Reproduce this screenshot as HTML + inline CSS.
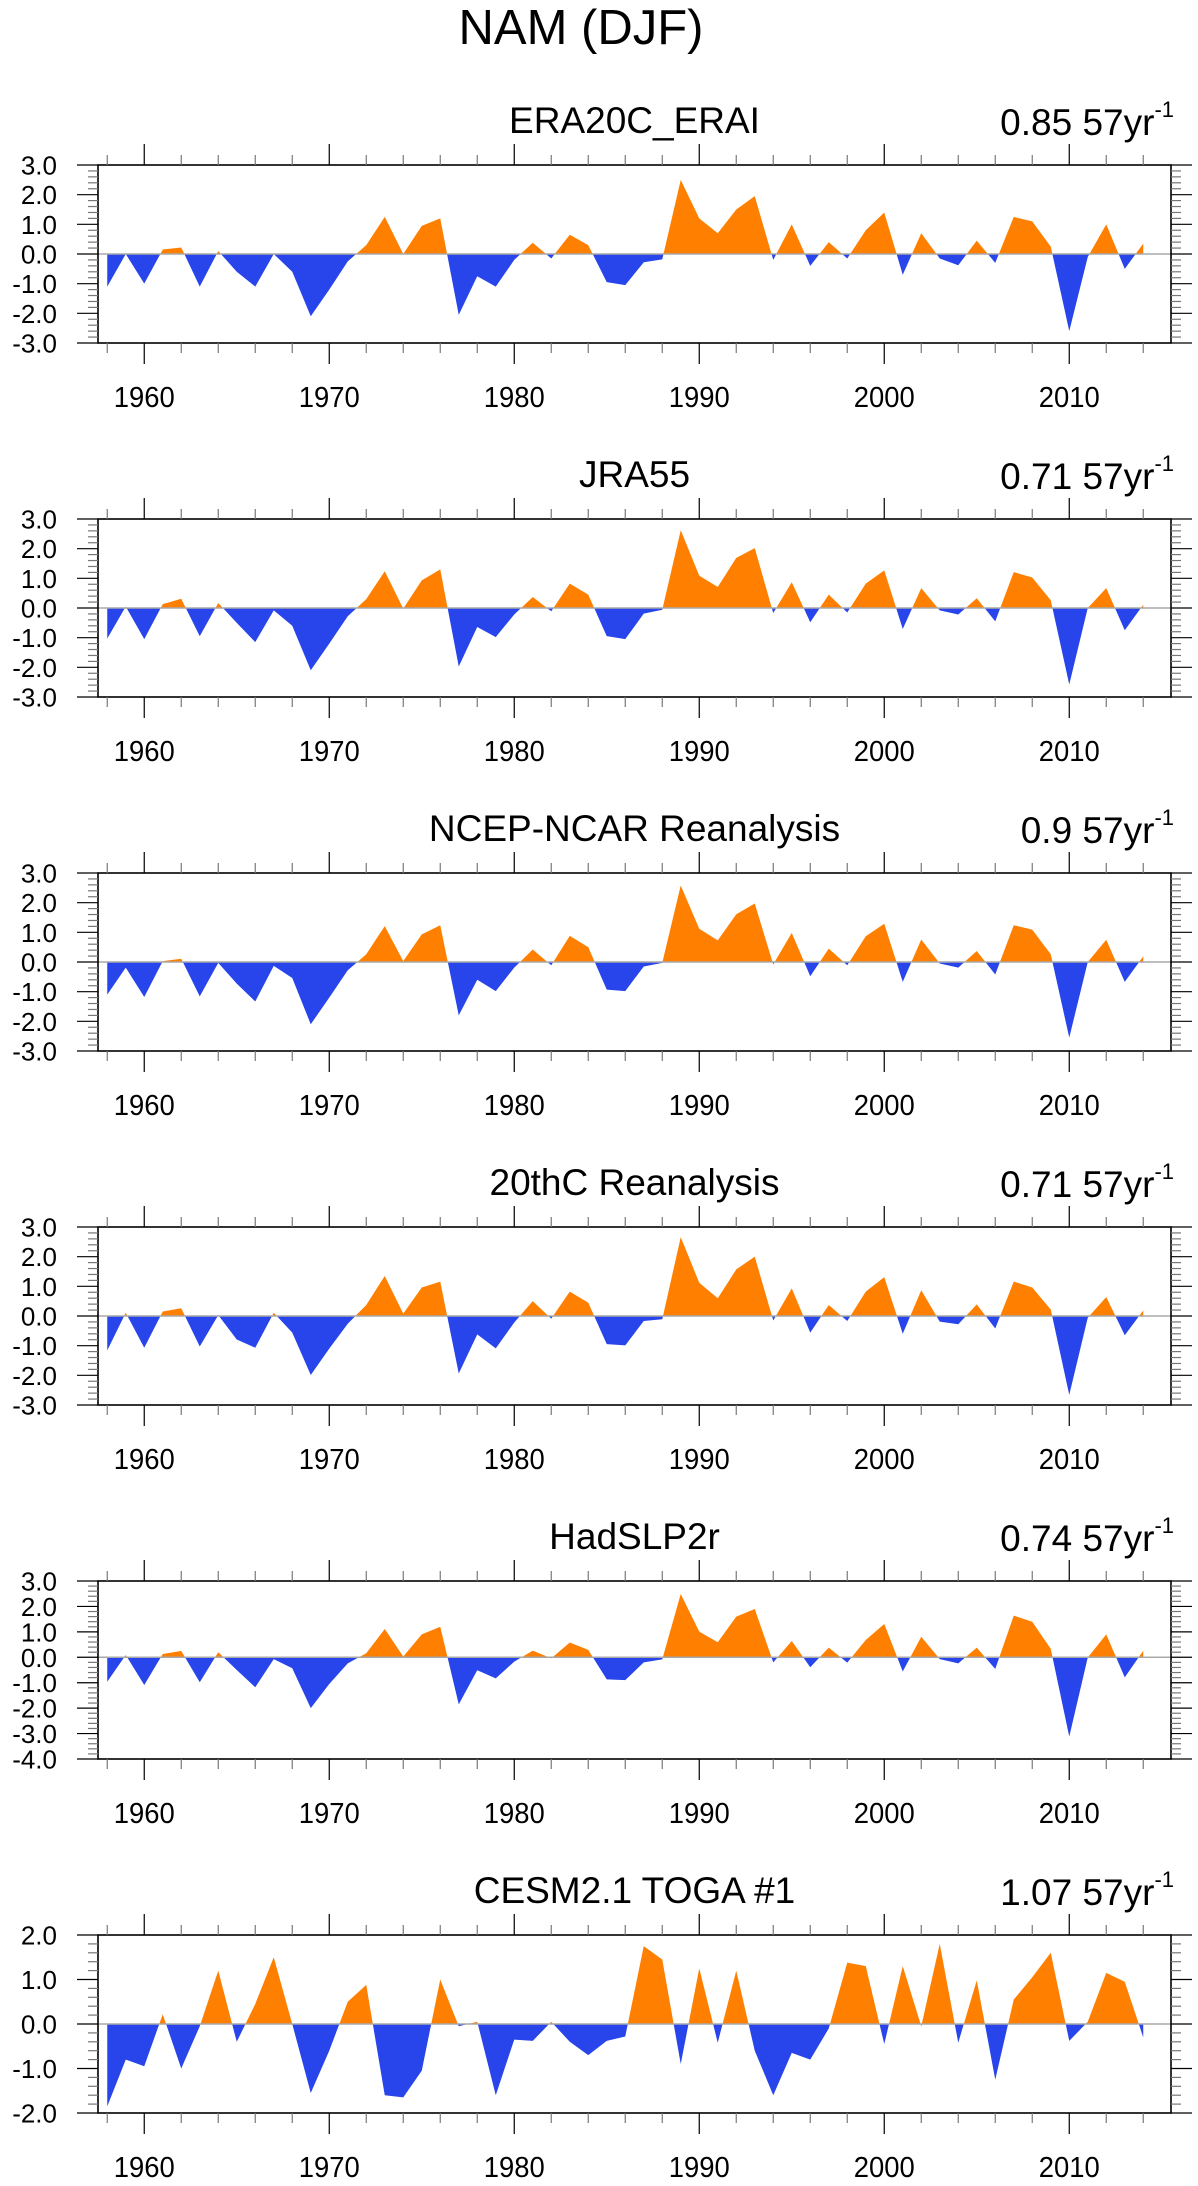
<!DOCTYPE html>
<html><head><meta charset="utf-8"><title>NAM (DJF)</title>
<style>html,body{margin:0;padding:0;background:#fff}svg{display:block}text{font-family:"Liberation Sans",Arial,sans-serif;fill:#000}</style>
</head><body>
<svg id="fig" width="1198" height="2186" viewBox="0 0 1198 2186" xmlns="http://www.w3.org/2000/svg">
<text x="581" y="44" font-size="49" text-anchor="middle">NAM (DJF)</text>
</svg>
<script>
const years = []; for (let y = 1958; y <= 2014; y++) years.push(y);
const titles = ["ERA20C_ERAI","JRA55","NCEP-NCAR Reanalysis","20thC Reanalysis","HadSLP2r","CESM2.1 TOGA #1"];
const corrs = ["0.85 57yr","0.71 57yr","0.9 57yr","0.71 57yr","0.74 57yr","1.07 57yr"];
const yMins = [-3,-3,-3,-3,-4,-2];
const yMaxs = [3,3,3,3,3,2];
const xTickLabels = [1960,1970,1980,1990,2000,2010];
const era20c = [-1.1,0.0,-1.0,0.15,0.22,-1.1,0.1,-0.6,-1.1,0.0,-0.6,-2.1,-1.2,-0.25,0.3,1.25,0.0,0.95,1.2,-2.05,-0.75,-1.1,-0.2,0.38,-0.15,0.65,0.3,-0.95,-1.05,-0.28,-0.18,2.5,1.2,0.7,1.5,1.95,-0.2,1.0,-0.4,0.4,-0.15,0.8,1.4,-0.7,0.7,-0.15,-0.38,0.45,-0.3,1.25,1.1,0.25,-2.6,-0.1,1.0,-0.5,0.35];
const jra55 = [-1.03,0.05,-1.05,0.13,0.31,-0.95,0.17,-0.5,-1.15,-0.08,-0.6,-2.1,-1.2,-0.28,0.3,1.24,-0.02,0.93,1.3,-1.97,-0.64,-0.98,-0.22,0.37,-0.11,0.82,0.45,-0.95,-1.05,-0.19,-0.06,2.62,1.09,0.71,1.69,2.02,-0.17,0.87,-0.48,0.45,-0.15,0.82,1.27,-0.71,0.67,-0.08,-0.22,0.33,-0.45,1.21,1.03,0.26,-2.58,0.0,0.67,-0.75,0.11];
const ncep = [-1.1,-0.19,-1.18,0.03,0.11,-1.16,-0.03,-0.73,-1.33,-0.13,-0.54,-2.1,-1.2,-0.28,0.26,1.21,0.03,0.93,1.24,-1.8,-0.6,-0.98,-0.19,0.42,-0.11,0.88,0.5,-0.93,-0.98,-0.15,-0.03,2.58,1.12,0.73,1.61,1.97,-0.08,0.98,-0.48,0.45,-0.11,0.87,1.29,-0.67,0.76,-0.05,-0.19,0.37,-0.42,1.24,1.09,0.26,-2.55,0.0,0.75,-0.67,0.19];
const c20 = [-1.16,0.11,-1.07,0.15,0.26,-1.03,0.03,-0.79,-1.07,0.11,-0.56,-1.99,-1.1,-0.26,0.37,1.35,0.08,0.96,1.16,-1.94,-0.62,-1.09,-0.22,0.5,-0.09,0.82,0.45,-0.95,-0.99,-0.17,-0.11,2.66,1.12,0.6,1.57,2.0,-0.15,0.93,-0.56,0.37,-0.17,0.82,1.31,-0.6,0.87,-0.19,-0.28,0.39,-0.42,1.16,0.96,0.22,-2.66,-0.06,0.64,-0.65,0.19];
const hadslp = [-0.96,0.09,-1.09,0.13,0.25,-0.98,0.2,-0.5,-1.18,-0.07,-0.43,-2.0,-1.05,-0.24,0.16,1.11,0.03,0.9,1.2,-1.85,-0.51,-0.83,-0.17,0.26,-0.04,0.58,0.29,-0.87,-0.9,-0.2,-0.08,2.49,1.01,0.59,1.6,1.9,-0.2,0.64,-0.39,0.38,-0.21,0.68,1.31,-0.56,0.81,-0.07,-0.24,0.38,-0.46,1.64,1.4,0.33,-3.12,-0.01,0.9,-0.79,0.26];
const cesm = [-1.85,-0.8,-0.95,0.22,-1.0,-0.05,1.2,-0.4,0.45,1.5,0.0,-1.55,-0.6,0.5,0.88,-1.6,-1.65,-1.05,1.0,-0.05,0.05,-1.6,-0.35,-0.38,0.05,-0.4,-0.7,-0.38,-0.28,1.75,1.45,-0.9,1.25,-0.42,1.2,-0.6,-1.6,-0.65,-0.8,-0.1,1.38,1.3,-0.45,1.3,-0.05,1.8,-0.42,0.98,-1.25,0.55,1.05,1.6,-0.38,0.05,1.15,0.95,-0.3];
const series = [era20c, jra55, ncep, c20, hadslp, cesm];

const NS = "http://www.w3.org/2000/svg";
const svg = document.getElementById('fig');
const L = 98, R = 1171, H = 178, X0 = 1957.5, X1 = 2015.5;
const tops = [165, 519, 873, 1227, 1581, 1935];
function mk(tag, attrs, parent) { const e = document.createElementNS(NS, tag); for (const k in attrs) e.setAttribute(k, attrs[k]); (parent || svg).appendChild(e); return e; }
const xs = yr => L + (yr - X0) * (R - L) / (X1 - X0);

series.forEach((vals, p) => {
  const top = tops[p], bot = top + H, lo = yMins[p], hi = yMaxs[p];
  const ys = v => bot - (v - lo) * H / (hi - lo);
  const g = mk('g', {});
  
  
  const t = mk('text', {x: (L + R) / 2, y: top - 32, 'font-size': 37, 'text-anchor': 'middle'}, g);
  t.textContent = titles[p];
  
  
  const c = mk('text', {x: 1174, y: top - 30, 'font-size': 37, 'text-anchor': 'end'}, g);
  
  
  c.appendChild(document.createTextNode(corrs[p]));
  const sup = mk('tspan', {dy: -18, 'font-size': 22}, c); sup.textContent = '-1';
  // area fill
  const z = ys(0);
  let d = 'M' + xs(years[0]) + ' ' + z;
  vals.forEach((v, i) => { d += ' L' + xs(years[i]).toFixed(2) + ' ' + ys(v).toFixed(2); });
  d += ' L' + xs(years[years.length - 1]) + ' ' + z + ' Z';
  const cpA = mk('clipPath', {id: 'ca' + p}, g); mk('rect', {x: L, y: top, width: R - L, height: z - top}, cpA);
  const cpB = mk('clipPath', {id: 'cb' + p}, g); mk('rect', {x: L, y: z, width: R - L, height: bot - z}, cpB);
  const pa = mk('path', {d: d, fill: '#ff8000', 'clip-path': 'url(#ca' + p + ')'}, g);
  
  
  const pb = mk('path', {d: d, fill: '#2745ea', 'clip-path': 'url(#cb' + p + ')'}, g);
  
  
  const zl = mk('line', {x1: L, x2: R, y1: z, y2: z, stroke: '#a8a8a8', 'stroke-width': 1.5}, g);
  
  
  const box = mk('rect', {x: L, y: top, width: R - L, height: H, fill: 'none', stroke: '#000', 'stroke-width': 1.6}, g);
  
  
  // x ticks
  for (let yr = 1958; yr <= 2014; yr += 2) {
    const x = xs(yr), len = (yr % 10 === 0) ? 21 : 10, col = (yr % 10 === 0) ? '#000' : '#777';
    mk('line', {x1: x, x2: x, y1: top, y2: top - len, stroke: col, 'stroke-width': 1.2}, g);
    mk('line', {x1: x, x2: x, y1: bot, y2: bot + len, stroke: col, 'stroke-width': 1.2}, g);
  }
  xTickLabels.forEach(yr => {
    const l = mk('text', {x: xs(yr), y: bot + 64, 'font-size': 29, 'text-anchor': 'middle', textLength: 61, lengthAdjust: 'spacingAndGlyphs'}, g);
    l.textContent = yr;
    
    
  });
  // y ticks
  for (let k = Math.round(lo * 5); k <= Math.round(hi * 5); k++) {
    const v = k / 5, y = ys(v), major = (k % 5 === 0), len = major ? 21 : 10, col = major ? '#000' : '#777';
    mk('line', {x1: L, x2: L - len, y1: y, y2: y, stroke: col, 'stroke-width': 1.2}, g);
    mk('line', {x1: R, x2: R + len, y1: y, y2: y, stroke: col, 'stroke-width': 1.2}, g);
    if (major) {
      const l = mk('text', {x: 57, y: y + 9.5, 'font-size': 26, 'text-anchor': 'end'}, g);
      l.textContent = v.toFixed(1);
      
      
    }
  }
});
</script>
</body></html>
